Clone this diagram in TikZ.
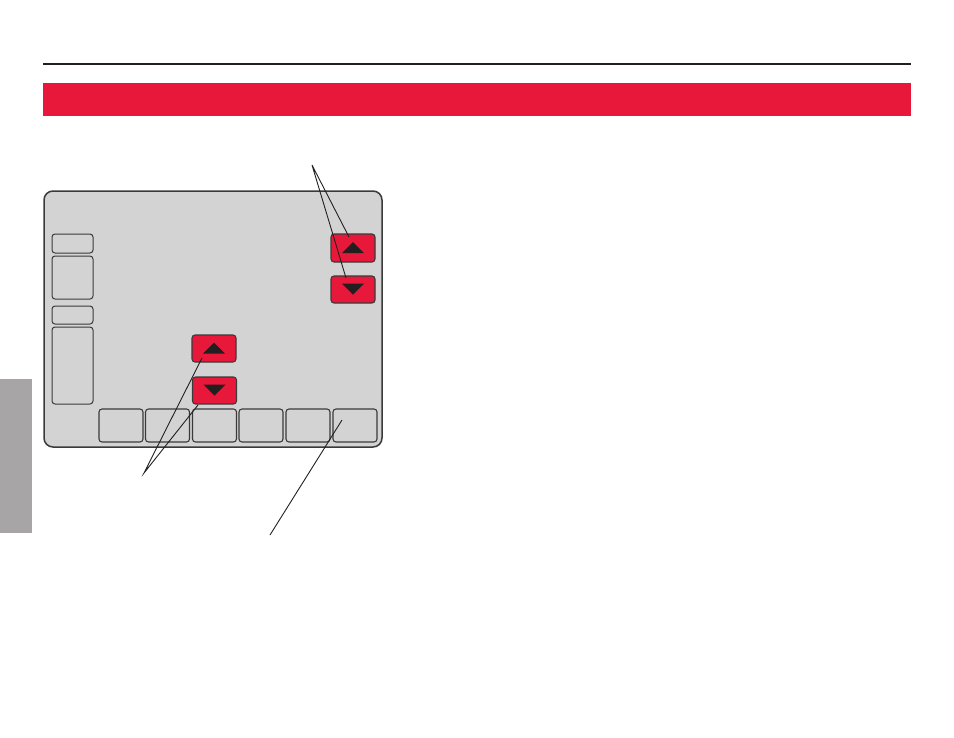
\documentclass[tikz,border=0pt]{standalone}
\usetikzlibrary{calc}
\definecolor{hred}{HTML}{E8183A}
\definecolor{tabgray}{HTML}{A7A5A6}
\definecolor{screen}{HTML}{D3D3D3}
\definecolor{ink}{HTML}{231F20}
\definecolor{edge}{HTML}{3A3A3A}
\tikzset{
  keybox/.style={draw=edge, line width=1.1pt, rounded corners=3pt, inner sep=0pt, minimum width=44pt, minimum height=33pt},
  redbtn/.style={draw=edge, fill=hred, line width=1.1pt, rounded corners=3pt, inner sep=0pt, minimum width=44pt, minimum height=28pt},
  sidebox/.style={draw=edge, line width=1pt, rounded corners=3pt, inner sep=0pt, minimum width=41pt},
  leader/.style={draw=ink, line width=0.9pt}
}
\newcommand{\uptri}[1]{\fill[ink] ($(#1)+(-11,5.5)$) -- ($(#1)+(11,5.5)$) -- ($(#1)+(0,-5.5)$) -- cycle;}
\newcommand{\dntri}[1]{\fill[ink] ($(#1)+(-11,-5.5)$) -- ($(#1)+(11,-5.5)$) -- ($(#1)+(0,5.5)$) -- cycle;}
\begin{document}
\begin{tikzpicture}[x=1pt,y=-1pt]
\useasboundingbox (0,0) rectangle (954,737);
% header
\draw[ink, line width=2pt] (43,64) -- (911,64);
\fill[hred] (43,83) rectangle (911,116);
% side tab
\fill[tabgray] (0,379) rectangle (32,533);
% thermostat body
\node[draw=edge, fill=screen, line width=1.5pt, rounded corners=9pt, inner sep=0pt, minimum width=338pt, minimum height=256pt] (body) at (213,319) {};
% left boxes
\node[sidebox, minimum height=19pt] (s1) at (72.5,243.5) {};
\node[sidebox, minimum height=43pt] (t1) at (72.5,277.5) {};
\node[sidebox, minimum height=18pt] (s2) at (72.5,315) {};
\node[sidebox, minimum height=77pt] (t2) at (72.5,365.5) {};
% bottom keys
\foreach \i/\x in {1/121,2/167.5,3/214.5,4/261,5/308,6/355}{
  \node[keybox] (k\i) at (\x,425.5) {};
}
% red buttons
\node[redbtn] (ru) at (353,248) {};
\node[redbtn, minimum height=27pt] (rd) at (353,289.5) {};
\node[redbtn, minimum height=27pt] (mu) at (214,348.5) {};
\node[redbtn, minimum height=27pt] (md) at (214.5,390.5) {};
\uptri{353,247.5}
\dntri{353,289}
\uptri{214,348}
\dntri{214.5,390}
% leaders
\coordinate (a1) at (312,165);
\coordinate (a1u) at (349,237);
\coordinate (a1d) at (346,278);
\draw[leader] (a1u) -- (a1) -- (a1d);
\coordinate (a2) at (144,473);
\coordinate (a2u) at (202,358);
\coordinate (a2d) at (198,405);
\draw[leader] (a2u) -- (a2) -- (a2d);
\coordinate (a3) at (270,535);
\coordinate (a3k) at (342,420);
\draw[leader] (a3) -- (a3k);
\end{tikzpicture}
\end{document}
